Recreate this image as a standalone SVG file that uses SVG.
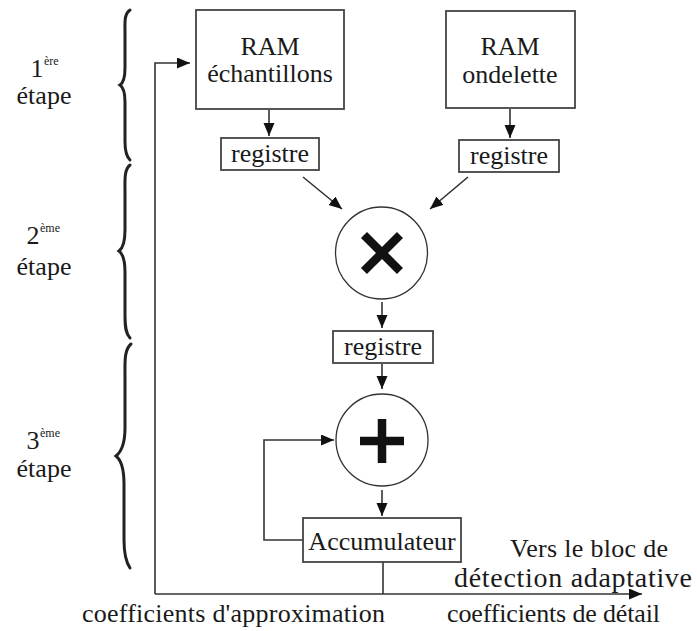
<svg xmlns="http://www.w3.org/2000/svg" width="697" height="631" viewBox="0 0 697 631">
<style>
text{font-family:"Liberation Serif","Times New Roman",serif;fill:#1a1a1a;font-size:26px}
.c{text-anchor:middle}
.sup{font-size:12px}
.big{font-size:28px}
.box{fill:#fff;stroke:#444;stroke-width:1.8}
.circ{fill:#fff;stroke:#333;stroke-width:1.3}
.ln{fill:none;stroke:#333;stroke-width:1.6}
.brace{fill:none;stroke:#222;stroke-width:3;stroke-linecap:round}
.sym{stroke:#111;stroke-width:8.5;fill:none}
</style>
<defs>
<marker id="ah" markerUnits="userSpaceOnUse" markerWidth="14" markerHeight="12" refX="13" refY="5.5" orient="auto">
<path d="M0,0 L13,5.5 L0,11 z" fill="#111"/>
</marker>
</defs>
<rect width="697" height="631" fill="#fff"/>
<g id="stages">
<g id="stage1"><text x="37" y="77" class="c">1</text><text x="44" y="65" class="sup">ère</text><text x="44" y="104" class="c">étape</text></g>
<g id="stage2"><text x="33" y="244" class="c">2</text><text x="40" y="232" class="sup">ème</text><text x="44" y="275" class="c">étape</text></g>
<g id="stage3"><text x="33" y="449" class="c">3</text><text x="40" y="437" class="sup">ème</text><text x="44" y="477" class="c">étape</text></g>
<path class="brace" d="M130,10 C124,14 125,22 125,32 L125,68 C125,78 123,83 120,85 C123,87 125,92 125,102 L125,142 C125,150 126,156 130,160"/>
<path class="brace" d="M130,165 C124,170 125,180 125,192 L125,230 C125,242 123,248 119,251 C123,254 125,260 125,272 L125,316 C125,328 126,334 130,338"/>
<path class="brace" d="M131,344 C124,350 125,362 125,378 L125,428 C125,444 121,452 116,456 C121,460 124,468 124,484 L124,540 C124,554 126,562 130,568"/>
</g>
<g id="connectors">
<path class="ln" d="M155,594 L155,63 L190,63" marker-end="url(#ah)"/>
<path class="ln" d="M155,594 L642,594" marker-end="url(#ah)"/>
<path class="ln" d="M383,562 L383,594"/>
<path class="ln" d="M269,110 L269,136" marker-end="url(#ah)"/>
<path class="ln" d="M510,109 L510,138" marker-end="url(#ah)"/>
<path class="ln" d="M303,177 L342,209" marker-end="url(#ah)"/>
<path class="ln" d="M468,177 L430,209" marker-end="url(#ah)"/>
<path class="ln" d="M382,302 L382,328" marker-end="url(#ah)"/>
<path class="ln" d="M382,364 L382,389" marker-end="url(#ah)"/>
<path class="ln" d="M382,490 L382,516" marker-end="url(#ah)"/>
<path class="ln" d="M303,540 L264,540 L264,440 L334,440" marker-end="url(#ah)"/>
</g>
<g id="ram_echantillons"><rect class="box" x="196" y="10" width="148" height="99"/><text x="270" y="55" class="c">RAM</text><text x="270" y="82" class="c">échantillons</text></g>
<g id="ram_ondelette"><rect class="box" x="446" y="11" width="129" height="97"/><text x="510" y="55" class="c">RAM</text><text x="510" y="83" class="c">ondelette</text></g>
<g id="registre1"><rect class="box" x="221" y="138" width="98" height="32"/><text x="270" y="162" class="c">registre</text></g>
<g id="registre2"><rect class="box" x="459" y="140" width="100" height="32"/><text x="509" y="164" class="c">registre</text></g>
<g id="multiplieur"><circle class="circ" cx="381.5" cy="253" r="46"/><path class="sym" d="M364,235 L400,271 M400,235 L364,271"/></g>
<g id="registre3"><rect class="box" x="333" y="331" width="100" height="32"/><text x="383" y="355" class="c">registre</text></g>
<g id="additionneur"><circle class="circ" cx="382" cy="440" r="46"/><path class="sym" d="M360,441 L404,441 M382,419 L382,463"/></g>
<g id="accumulateur"><rect class="box" x="303" y="518" width="158" height="44"/><text x="382" y="550" class="c">Accumulateur</text></g>
<g id="labels">
<text x="510" y="557" textLength="158">Vers le bloc de</text>
<text x="454" y="587" class="big" textLength="238">détection adaptative</text>
<text x="82" y="622" textLength="303">coefficients d'approximation</text>
<text x="447" y="622" textLength="213">coefficients de détail</text>
</g>
</svg>
